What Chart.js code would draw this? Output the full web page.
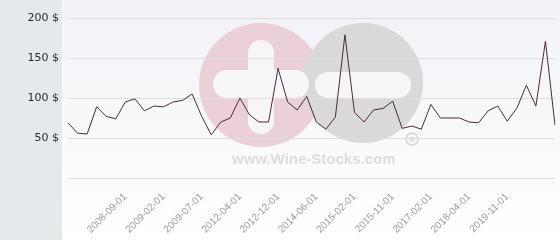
<!DOCTYPE html>
<html>
<head>
<meta charset="utf-8">
<script src="https://cdn.jsdelivr.net/npm/chart.js@4"></script>
<style>
  html, body { margin: 0; padding: 0; background: #fff; }
  #wrap { width: 560px; height: 240px; }
</style>
</head>
<body>
<div id="wrap"><canvas id="chartPrice" width="560" height="240"></canvas></div>
<script>
const dates = [
  '2008-03-01', '2008-04-01', '2008-05-01', '2008-06-01', '2008-07-01', '2008-08-01',
  '2008-09-01', '2008-10-01', '2008-11-01', '2009-01-01', '2009-02-01', '2009-03-01',
  '2009-04-01', '2009-05-01', '2009-07-01', '2010-03-01', '2010-11-01', '2011-06-01',
  '2012-04-01', '2012-06-01', '2012-08-01', '2012-10-01', '2012-12-01', '2013-04-01',
  '2013-09-01', '2014-01-01', '2014-06-01', '2014-09-01', '2014-11-01', '2015-01-01',
  '2015-02-01', '2015-04-01', '2015-06-01', '2015-09-01', '2015-11-01', '2016-03-01',
  '2016-06-01', '2016-10-01', '2017-02-01', '2017-06-01', '2017-09-01', '2018-01-01',
  '2018-04-01', '2018-09-01', '2019-02-01', '2019-06-01', '2019-11-01', '2020-03-01',
  '2020-07-01', '2020-11-01', '2021-03-01', '2021-07-01'
];

const prices = [
  69, 56, 55, 89, 77, 74, 95, 99, 84, 90, 89, 95,
  97, 105, 77, 54, 70, 75, 100, 79, 70, 70, 137, 95,
  85, 102, 70, 61, 76, 179, 82, 70, 85, 87, 96, 62,
  65, 61, 92, 75, 75, 75, 70, 69, 84, 90, 71, 87,
  116, 90, 171, 66
];

// which date labels are shown under the axis
const shownLabels = [
  '2008-09-01', '2009-02-01', '2009-07-01', '2012-04-01', '2012-12-01', '2014-06-01',
  '2015-02-01', '2015-11-01', '2017-02-01', '2018-04-01', '2019-11-01'
];

const yTicks = [0, 50, 100, 150, 200];

// background: grey side panel, soft gradient and the watermark logo
const backdrop = {
  id: 'backdrop',
  beforeDraw(chart) {
    const c = chart.ctx;
    const w = chart.width, h = chart.height;
    c.save();
    c.fillStyle = '#e6e9ec';
    c.fillRect(0, 0, 62, h);
    c.fillStyle = '#ffffff';
    c.fillRect(62, 0, 1, h);
    const g = c.createLinearGradient(0, 0, 0, h);
    g.addColorStop(0, '#f1f2f6');
    g.addColorStop(1, '#ffffff');
    c.fillStyle = g;
    c.fillRect(63, 0, w - 63, h);

    c.fillStyle = '#ebd0d8';
    c.beginPath(); c.arc(261, 85, 62, 0, Math.PI * 2); c.fill();
    c.fillStyle = '#d9d9da';
    c.beginPath(); c.arc(363, 83, 60, 0, Math.PI * 2); c.fill();

    c.fillStyle = '#f6f6f9';
    c.beginPath(); c.roundRect(213, 70, 96, 28, 14); c.fill();
    c.beginPath(); c.roundRect(248, 40, 26, 94, 13); c.fill();
    c.beginPath(); c.roundRect(315, 72, 96, 26, 13); c.fill();

    c.fillStyle = '#dcdcdc';
    c.font = 'bold 15px "Liberation Sans", Arial, sans-serif';
    c.textBaseline = 'middle';
    c.fillText('www.Wine-Stocks.com', 232, 160);
    c.strokeStyle = '#d4d4d4';
    c.lineWidth = 1.5;
    c.beginPath(); c.arc(412, 139, 6, 0, Math.PI * 2); c.stroke();
    c.font = 'bold 8px "Liberation Sans", Arial, sans-serif';
    c.fillStyle = '#d4d4d4';
    c.textAlign = 'center';
    c.fillText('R', 412, 139.5);
    c.restore();
  }
};

const ctx = document.getElementById('chartPrice').getContext('2d');

const chartPrice = new Chart(ctx, {
  type: 'line',
  data: {
    labels: dates,
    datasets: [{
      data: prices,
      borderColor: '#4b2a3b',
      borderWidth: 1,
      pointRadius: 0,
      tension: 0,
      fill: false
    }]
  },
  options: {
    responsive: false,
    animation: false,
    devicePixelRatio: 1,
    layout: {
      padding: { top: 18, right: 5, left: 0, bottom: 0 }
    },
    plugins: {
      legend: { display: false },
      tooltip: { enabled: false }
    },
    scales: {
      x: {
        offset: false,
        grid: { display: false },
        border: { display: false },
        ticks: {
          autoSkip: false,
          minRotation: 45,
          maxRotation: 45,
          padding: 5,
          color: '#9a9a9a',
          font: { family: '"Liberation Sans", Arial, sans-serif', size: 10 },
          callback(v, i) {
            const d = dates[i];
            return shownLabels.includes(d) ? d : '';
          }
        },
        afterFit(s) {
          s.height = 62;
          s.paddingLeft = 0;
          s.paddingRight = 0;
        }
      },
      y: {
        min: yTicks[0],
        max: yTicks[yTicks.length - 1],
        afterBuildTicks(s) { s.ticks = yTicks.map(v => ({ value: v })); },
        grid: { color: '#dcdde2', drawTicks: false },
        border: { display: false },
        ticks: {
          padding: 9,
          color: '#2b2b2b',
          font: { family: '"DejaVu Sans", sans-serif', size: 11 },
          callback(v) { return v === 0 ? '' : v + ' $'; }
        },
        afterFit(s) { s.width = 68; }
      }
    }
  },
  plugins: [backdrop]
});
</script>
</body>
</html>
